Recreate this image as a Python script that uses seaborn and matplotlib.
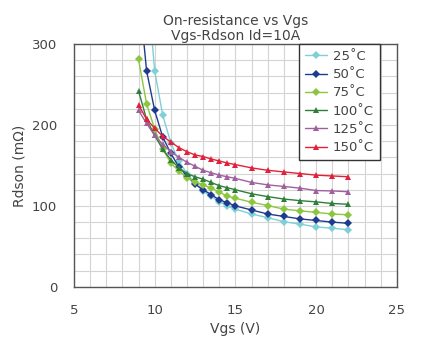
import seaborn as sns
import pandas as pd
import numpy as np
import matplotlib.pyplot as plt

# Vgs steps (V)
vgs = [9, 9.5, 10, 10.5, 11, 11.5, 12, 12.5, 13, 13.5, 14, 14.5, 15, 16, 17, 18, 19, 20, 21, 22]

# Rdson (mOhm) per junction temperature
r25 = [560, 385, 267, 212, 178, 155, 140, 128, 118, 112, 105, 100, 96, 90, 85.5, 80.5, 77.5, 74, 72.5, 70.5]
r50 = [370, 267, 218, 185, 165, 148, 137, 127, 120, 114, 107.5, 104, 100, 95, 90, 87, 84, 82, 80, 78.5]
r75 = [281, 226, 195, 170, 153, 143, 135, 130, 126, 122, 117, 112, 109.5, 104.5, 100.5, 96, 94, 92, 90, 89]
r100 = [242, 207, 187, 170, 157, 147, 140, 136, 133, 129, 125, 122.5, 120, 115, 111.5, 108.5, 106.5, 105, 103, 102]
r125 = [218, 202, 187, 176, 167, 160, 154, 149, 144, 141, 138, 136, 134, 129, 126, 124, 122, 119, 118.5, 117.5]
r150 = [225, 207, 196, 186, 179, 172, 167, 163, 161, 158, 155.5, 153, 151, 147, 144, 142, 140, 138, 137, 136]

temps = ["25˚C", "50˚C", "75˚C", "100˚C", "125˚C", "150˚C"]
colors = ["#7fcfd6", "#1f3b8f", "#8cc63e", "#2f7f3a", "#a0609e", "#e3203a"]
markers = ["D", "D", "D", "^", "^", "^"]

series = [r25, r50, r75, r100, r125, r150]
df = pd.concat(
    [pd.DataFrame({"Vgs": vgs, "Rdson": s, "Temp": t}) for s, t in zip(series, temps)],
    ignore_index=True,
)

sns.set_style("white")
plt.rcParams["font.family"] = ["DejaVu Sans"]
text_col = "#444444"

fig = plt.figure(figsize=(4.4, 3.52), dpi=100)
ax = fig.add_axes([0.168, 0.185, 0.734, 0.69])

sns.lineplot(
    data=df, x="Vgs", y="Rdson", hue="Temp", style="Temp",
    palette=dict(zip(temps, colors)), markers=dict(zip(temps, markers)),
    dashes=False, markersize=4, linewidth=1.0, markeredgewidth=0,
    ax=ax, sort=False,
)

ax.set_xlim(5, 25)
ax.set_ylim(0, 300)
ax.set_xticks([5, 10, 15, 20, 25])
ax.set_yticks([0, 100, 200, 300])
ax.set_xticks(np.arange(5, 26, 1), minor=True)
ax.set_yticks(np.arange(0, 301, 20), minor=True)
ax.grid(which="both", color="#d4d4d4", linewidth=0.8)
ax.set_axisbelow(True)
ax.tick_params(which="major", direction="in", length=3, color="#555555",
               labelsize=9.5, labelcolor=text_col, pad=12)
ax.tick_params(which="minor", length=0)
for sp in ax.spines.values():
    sp.set_color("#555555")
    sp.set_linewidth(1.0)

ax.set_xlabel("Vgs (V)", fontsize=10, color=text_col)
ax.set_ylabel("Rdson (mΩ)", fontsize=10, color=text_col)
ax.set_title("On-resistance vs Vgs\nVgs-Rdson Id=10A", fontsize=10, color=text_col,
             linespacing=1.1, pad=3)

leg = ax.legend(loc="upper right", bbox_to_anchor=(0.947, 1.0), borderaxespad=0,
                fontsize=9.5, frameon=True, fancybox=False, edgecolor="#333333",
                framealpha=1, handlelength=1.7, handletextpad=0.4,
                labelspacing=0.4, borderpad=0.45)
leg.get_frame().set_linewidth(1.0)
for t in leg.get_texts():
    t.set_color(text_col)

fig.savefig("out.png", dpi=100)
